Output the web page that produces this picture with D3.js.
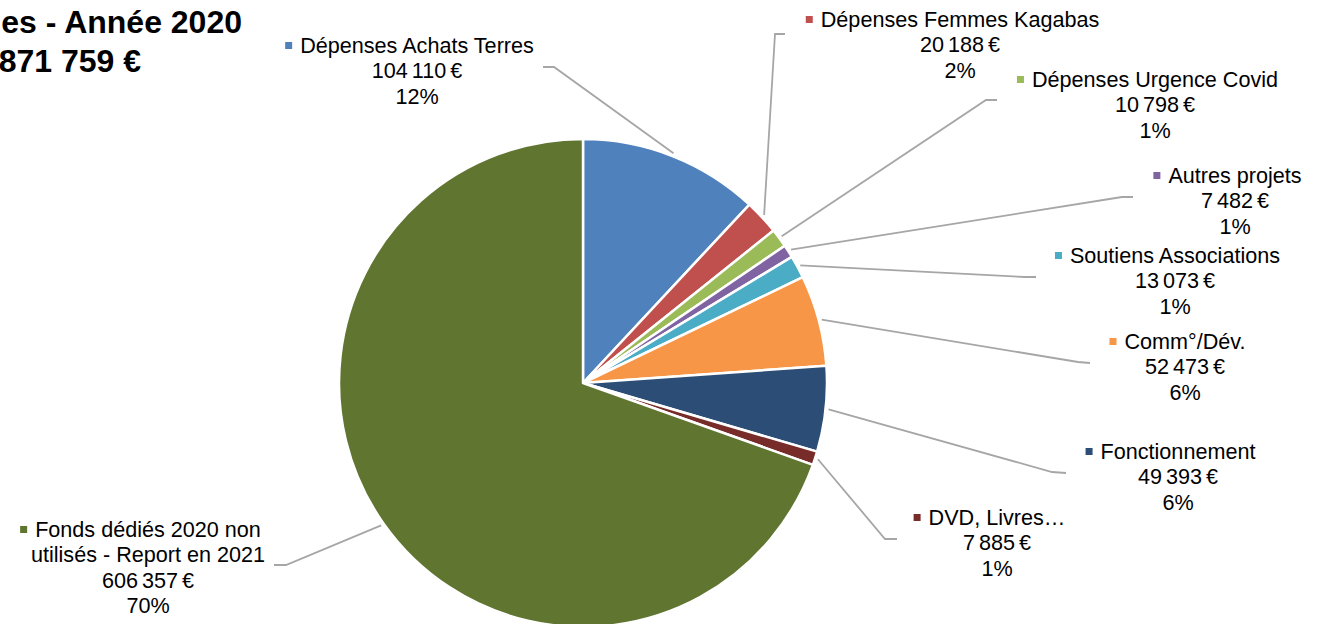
<!DOCTYPE html>
<html>
<head>
<meta charset="utf-8">
<script src="https://cdn.jsdelivr.net/npm/d3@7"></script>
<style>
  body { margin: 0; background: #fff; overflow: hidden; }
  svg { display: block; }
</style>
</head>
<body>
<div id="chart"></div>
<script>
const width = 1321;
const height = 624;

// data
const titleLines = ['es - Année 2020', '871 759 €'];
const categories = [
    'Dépenses Achats Terres',
    'Dépenses Femmes Kagabas',
    'Dépenses Urgence Covid',
    'Autres projets',
    'Soutiens Associations',
    'Comm°/Dév.',
    'Fonctionnement',
    'DVD, Livres…',
    'Fonds dédiés 2020 non\nutilisés - Report en 2021',
];
const values = [104110, 20188, 10798, 7482, 13073, 52473, 49393, 7885, 606357];
const colors = ['#4F81BD', '#C0504D', '#9BBB59', '#8064A2', '#4BACC6', '#F79646', '#2C4D75', '#772C2A', '#5F7530'];

// label placement (centre x, first baseline, leader end + elbow)
const labelLayout = [
    {cx: 417, y: 53, end: [543, 67], elbow: [554, 67]},
    {cx: 960, y: 27, end: [785, 34], elbow: [775, 34]},
    {cx: 1155, y: 87, end: [997, 100], elbow: [986, 100]},
    {cx: 1235, y: 183, end: [1133, 197], elbow: [1122, 197]},
    {cx: 1175, y: 263, end: [1036, 277], elbow: [1025, 277]},
    {cx: 1185, y: 349, end: [1090, 363], elbow: [1078, 362]},
    {cx: 1178, y: 459, end: [1066, 473], elbow: [1052, 472]},
    {cx: 997, y: 525, end: [897, 539], elbow: [885, 539]},
    {cx: 148, y: 537, end: [274, 565], elbow: [286, 565]},
];

const cx = 583;
const cy = 383;
const radius = 244;
const lineHeight = 25.3;
const fontFamily = '"Liberation Sans", Arial, sans-serif';

const total = d3.sum(values);
const fr = d3.formatLocale({decimal: ',', thousands: ' ', grouping: [3], currency: ['', ' €']});
const fmtMoney = fr.format('$,d');
const fmtPct = v => Math.round(v / total * 100) + '%';

const svg = d3.select('#chart').append('svg')
    .attr('width', width)
    .attr('height', height)
    .attr('viewBox', [0, 0, width, height]);

const pie = d3.pie().sort(null).value(d => d.value).startAngle(0).endAngle(2 * Math.PI);
const arcs = pie(values.map((v, i) => ({name: categories[i], value: v, i})));

const arc = d3.arc().innerRadius(0).outerRadius(radius);
const edgeArc = d3.arc().innerRadius(radius + 3).outerRadius(radius + 3);

const g = svg.append('g').attr('transform', `translate(${cx},${cy})`);

g.selectAll('path.slice')
    .data(arcs)
    .join('path')
    .attr('class', 'slice')
    .attr('d', arc)
    .attr('fill', d => colors[d.data.i])
    .attr('stroke', '#fff')
    .attr('stroke-width', 2.5)
    .attr('stroke-linejoin', 'round');

// leader lines
svg.append('g')
    .selectAll('polyline')
    .data(arcs)
    .join('polyline')
    .attr('fill', 'none')
    .attr('stroke', '#A6A6A6')
    .attr('stroke-width', 1.8)
    .attr('points', d => {
        const lay = labelLayout[d.data.i];
        const p = edgeArc.centroid(d);
        return [[p[0] + cx, p[1] + cy], lay.elbow, lay.end].map(q => q.join(',')).join(' ');
    });

// labels
const labels = svg.append('g')
    .attr('font-family', fontFamily)
    .attr('font-size', 21.6)
    .attr('fill', '#000')
    .selectAll('g')
    .data(arcs)
    .join('g');

labels.each(function(d) {
    const lay = labelLayout[d.data.i];
    const lines = d.data.name.split('\n').concat([fmtMoney(d.data.value), fmtPct(d.data.value)]);
    const sel = d3.select(this);
    const t = sel.append('text').attr('text-anchor', 'middle');
    lines.forEach((s, k) => {
        t.append('tspan')
            .attr('x', lay.cx)
            .attr('y', lay.y + k * lineHeight)
            .attr('word-spacing', k > 0 && k === lines.length - 2 ? -2 : 0)
            .text(s);
    });
    const firstW = t.select('tspan').node().getComputedTextLength();
    sel.append('rect')
        .attr('x', lay.cx - firstW / 2 - 15)
        .attr('y', lay.y - 11)
        .attr('width', 7)
        .attr('height', 7)
        .attr('fill', colors[d.data.i]);
});

// title (cut off at the left edge, as in the picture)
svg.append('g')
    .attr('font-family', fontFamily)
    .attr('font-size', 32)
    .attr('font-weight', 'bold')
    .attr('text-anchor', 'end')
    .selectAll('text')
    .data(titleLines)
    .join('text')
    .attr('x', (d, i) => i === 0 ? 242 : 141)
    .attr('y', (d, i) => 33 + i * 39)
    .text(d => d);
</script>
</body>
</html>
